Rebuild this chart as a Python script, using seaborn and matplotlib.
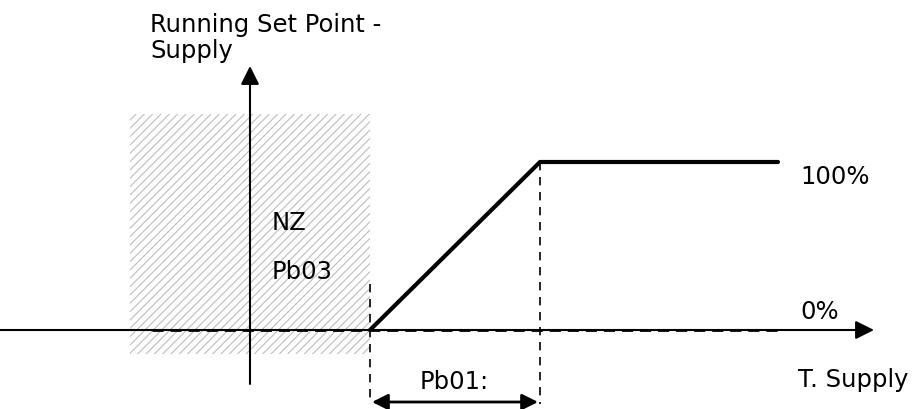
import matplotlib
matplotlib.use("Agg")
import matplotlib.pyplot as plt
import matplotlib.patches as mpatches
import seaborn as sns
import pandas as pd

# characteristic curve: supply temperature (x, drawing units) vs running set point (%)
temp_points = [370, 540, 778]
setpoint_pct = [0, 100, 100]

# neutral zone (Pb03) and band (Pb01)
nz_start, nz_end = 130, 370
band_start, band_end = 370, 540
yaxis_x = 250

sns.set_style("white")
plt.rcParams['font.family'] = ['DejaVu Sans']
plt.rcParams['text.color'] = 'black'
plt.rcParams['hatch.linewidth'] = 0.8
plt.rcParams['hatch.color'] = '#bdbdbd'

fig = plt.figure(figsize=(9.15, 4.10), dpi=100)
ax = fig.add_axes([0, 0, 1, 1])
ax.set_xlim(0, 915)
# 0% sits at pixel row 331, 100% at row 163
px_per_pct = 1.68
ax.set_ylim((331 - 410) / px_per_pct, 331 / px_per_pct)
ax.set_axis_off()


def row(r):
    # pixel row -> percent value
    return (331 - r) / px_per_pct


fs = 17.5

# hatched neutral zone
ax.add_patch(mpatches.Rectangle((nz_start, row(355)), nz_end - nz_start, row(115) - row(355),
                                facecolor='none', edgecolor='#bdbdbd', hatch='////', lw=0, zorder=1))

# axes with arrows
ax.annotate('', xy=(874, 0), xytext=(0, 0),
            arrowprops=dict(arrowstyle='-|>', lw=1.5, color='black', mutation_scale=28,
                            shrinkA=0, shrinkB=0), zorder=3)
ax.annotate('', xy=(yaxis_x, row(67)), xytext=(yaxis_x, row(385)),
            arrowprops=dict(arrowstyle='-|>', lw=1.5, color='black', mutation_scale=28,
                            shrinkA=0, shrinkB=0), zorder=3)

# 0% line (dashed, over the axis)
ax.plot([nz_start + 22, temp_points[-1]], [0, 0], color='black', lw=2, ls=(0, (4, 2.5)), zorder=3)

# curve
df = pd.DataFrame({'temp': temp_points, 'pct': setpoint_pct})
sns.lineplot(data=df, x='temp', y='pct', color='black', lw=3, ax=ax, sort=False, zorder=4)
ax.set_xlabel('')
ax.set_ylabel('')

# dashed guides
ax.plot([band_start, band_start], [row(285), row(405)], color='black', lw=1.2, ls=(0, (5, 4)), zorder=3)
ax.plot([band_end, band_end], [100, row(405)], color='black', lw=1.2, ls=(0, (5, 4)), zorder=3)

# Pb01 band arrow
ax.annotate('', xy=(band_end - 2, row(403)), xytext=(band_start + 2, row(403)),
            arrowprops=dict(arrowstyle='<|-|>', lw=2, color='black', mutation_scale=24,
                            shrinkA=0, shrinkB=0), zorder=3)

# texts
ax.text(150, row(25), 'Running Set Point -', fontsize=fs, ha='left', va='center')
ax.text(150, row(51), 'Supply', fontsize=fs, ha='left', va='center')
ax.text(272, row(223), 'NZ', fontsize=fs, ha='left', va='center')
ax.text(272, row(272), 'Pb03', fontsize=fs, ha='left', va='center')
ax.text(454, row(382), 'Pb01:', fontsize=fs, ha='center', va='center')
ax.text(800, row(177), '100%', fontsize=fs, ha='left', va='center')
ax.text(800, row(312), '0%', fontsize=fs, ha='left', va='center')
ax.text(798, row(380), 'T. Supply', fontsize=fs, ha='left', va='center')

fig.savefig('out.png', dpi=100, facecolor='white')
